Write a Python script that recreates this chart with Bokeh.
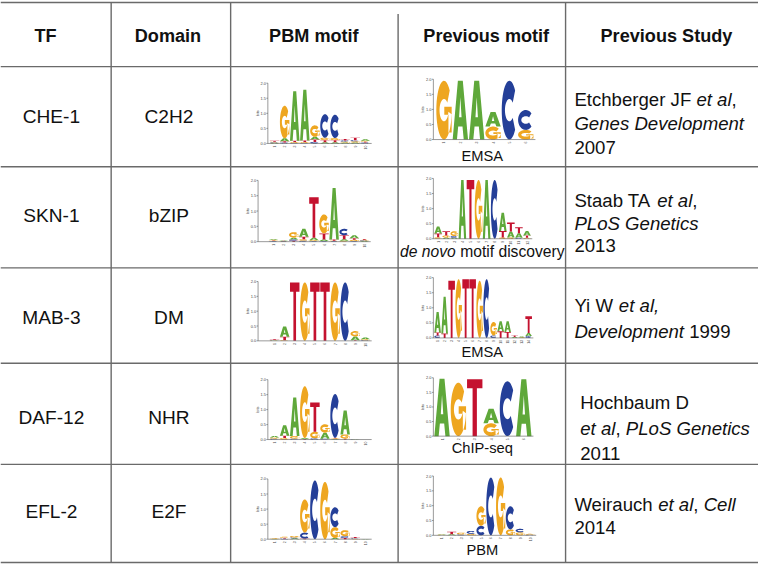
import math
from bokeh.plotting import figure
from bokeh.models import Range1d
from bokeh.embed import file_html
from bokeh.resources import INLINE
from bokeh.core.properties import value

FONT = "Liberation Sans"

# ---------------- data ----------------
headers = ["TF", "Domain", "PBM motif", "Previous motif", "Previous Study"]
tfs = ["CHE-1", "SKN-1", "MAB-3", "DAF-12", "EFL-2"]
domains = ["C2H2", "bZIP", "DM", "NHR", "E2F"]
methods = [
    [("EMSA", False)],
    [("de novo ", True), ("motif discovery", False)],
    [("EMSA", False)],
    [("ChIP-seq", False)],
    [("PBM", False)],
]
studies = [
    [[("Etchberger JF ", False), ("et al", True), (",", False)],
     [("Genes Development", True)],
     [("2007", False)]],
    [[("Staab TA ", False), ("et al", True), (",", False)],
     [("PLoS Genetics", True)],
     [("2013", False)]],
    [[("Yi W ", False), ("et al,", True)],
     [("Development ", True), ("1999", False)]],
    [[("Hochbaum D", False)],
     [("et al", True), (", ", False), ("PLoS Genetics", True)],
     [("2011", False)]],
    [[("Weirauch ", False), ("et al", True), (", ", False), ("Cell", True)],
     [("2014", False)]],
]

# motif stacks: each position lists (base, bits) from bottom to top
che1_pbm = [
    [("A", .02), ("C", .02), ("G", .02), ("T", .03)],
    [("C", .03), ("T", .04), ("A", .10), ("G", 1.08)],
    [("C", .02), ("G", .03), ("T", .04), ("A", 1.64)],
    [("C", .02), ("G", .03), ("T", .05), ("A", 1.68)],
    [("C", .05), ("T", .08), ("A", .09), ("G", .38)],
    [("A", .04), ("T", .07), ("G", .08), ("C", .78)],
    [("A", .04), ("T", .07), ("G", .07), ("C", .77)],
    [("A", .03), ("G", .03), ("C", .04), ("T", .05)],
    [("A", .03), ("G", .04), ("C", .04), ("T", .08)],
    [("C", .03), ("T", .03), ("G", .03), ("A", .05)],
]
che1_prev = [
    [("G", 1.95)],
    [("A", 1.95)],
    [("A", 1.95)],
    [("G", .43), ("A", .48)],
    [("C", 1.95)],
    [("G", .32), ("C", .66)],
]
skn1_pbm = [
    [("C", .02), ("T", .02), ("G", .02), ("A", .03)],
    [("C", .01), ("G", .01), ("T", .01), ("A", .02)],
    [("T", .03), ("C", .04), ("A", .06), ("G", .18)],
    [("C", .03), ("G", .05), ("T", .08), ("A", .26)],
    [("C", .02), ("G", .03), ("A", .08), ("T", 1.32)],
    [("C", .02), ("A", .05), ("T", .20), ("G", .62)],
    [("C", .01), ("G", .02), ("T", .04), ("A", 1.68)],
    [("G", .03), ("A", .05), ("T", .13), ("C", .21)],
    [("C", .02), ("G", .04), ("T", .05), ("A", .10)],
    [("A", .02), ("C", .02), ("G", .02), ("T", .03)],
]
skn1_prev = [
    [("G", .05), ("T", .12), ("A", .24)],
    [("A", .04), ("G", .07), ("T", .14)],
    [("A", .03), ("C", .06), ("G", .16)],
    [("A", 1.95)],
    [("T", 1.95)],
    [("G", 1.95)],
    [("A", 1.95)],
    [("C", 1.95)],
    [("G", .04), ("T", .22), ("A", .60)],
    [("G", .04), ("A", .20), ("T", .30)],
    [("C", .03), ("A", .15), ("T", .20)],
    [("G", .03), ("T", .08), ("A", .15)],
]
mab3_pbm = [
    [("A", .01), ("C", .01), ("G", .01), ("T", .02)],
    [("G", .02), ("T", .12), ("A", .34)],
    [("T", 1.97)],
    [("G", 1.97)],
    [("T", 1.97)],
    [("T", 1.97)],
    [("G", 1.97)],
    [("C", 1.97)],
    [("T", .02), ("A", .13), ("G", .18)],
    [("C", .02), ("G", .03), ("A", .06)],
]
mab3_prev = [
    [("C", .08), ("T", .10), ("A", .68)],
    [("T", .15), ("A", 1.22)],
    [("T", 1.90)],
    [("G", 1.95)],
    [("T", 1.95)],
    [("T", 1.95)],
    [("G", 1.90)],
    [("C", 1.95)],
    [("C", .08), ("G", .45)],
    [("T", .22), ("A", .33)],
    [("T", .20), ("A", .35)],
    [("A", .03), ("T", .05)],
    [("G", .02), ("A", .03)],
    [("C", .06), ("A", .10), ("T", .56)],
]
daf12_pbm = [
    [("C", .03), ("G", .04), ("A", .05)],
    [("G", .05), ("T", .08), ("A", .35)],
    [("C", .03), ("G", .09), ("A", 1.28)],
    [("T", .02), ("A", .03), ("G", 1.73)],
    [("C", .04), ("G", .22), ("T", .98)],
    [("C", .03), ("A", .20), ("G", .28)],
    [("A", .02), ("G", .02), ("T", .02), ("C", 1.46)],
    [("T", .03), ("G", .14), ("A", .80)],
    [("C", .01), ("A", .01)],
    [("T", .005)],
]
daf12_prev = [
    [("A", 1.97)],
    [("G", 1.83)],
    [("T", 1.95)],
    [("G", .44), ("A", .50)],
    [("C", 1.88)],
    [("A", 1.95)],
]
efl2_pbm = [
    [("A", .01), ("G", .02)],
    [("C", .02), ("T", .03), ("G", .03)],
    [("A", .03), ("C", .03), ("G", .05)],
    [("T", .02), ("C", .20), ("G", 1.10)],
    [("C", 1.95)],
    [("G", 1.90)],
    [("A", .04), ("G", .36), ("C", .66)],
    [("T", .04), ("C", .06), ("G", .20)],
    [("G", .02), ("C", .02), ("T", .03)],
    [("A", .005)],
]
efl2_prev = [
    [("G", .02), ("A", .02)],
    [("A", .04), ("T", .08)],
    [("C", .03), ("G", .06)],
    [("G", .05), ("C", .10)],
    [("C", .32), ("G", .66)],
    [("C", 1.95)],
    [("G", 1.95)],
    [("G", .20), ("C", .78)],
    [("G", .10), ("C", .12)],
    [("C", .02), ("G", .03)],
]
pbm_motifs = [che1_pbm, skn1_pbm, mab3_pbm, daf12_pbm, efl2_pbm]
prev_motifs = [che1_prev, skn1_prev, mab3_prev, daf12_prev, efl2_prev]
bit_ticks = [0.0, 0.5, 1.0, 1.5, 2.0]

# ---------------- styling / layout (reference pixel space 774 x 580) ----------------
W_PX, H_PX = 758, 564
K = W_PX / 774.0          # screen px per reference px
COLORS = {"A": "#5FA83A", "C": "#243F98", "G": "#EEA620", "T": "#C4122F"}
GRID = "#6a6a6a"
col_edges = [113, 235, 406, 577]
col_tops = [2, 2, 14, 2]
row_edges = [68, 171, 275, 373, 477]
top_y, bottom_y = 2, 578
header_y = 37
header_x = [46, 171, 320, 496, 680]
tf_x, dom_x = 52, 172
row_text_y = [119, 221, 326, 429, 525]
study_x = [586, 586, 586, 592, 586]
study_y = [[102, 127, 151], [206, 229, 252], [314, 340], [413, 440, 466], [518, 542]]
method_x = 492
method_y = [160, 258, 361, 460, 565]
# (axis_x, baseline_y, first_left, step, px_per_bit)
pbm_geom = [(273, 147, 275, 10.3, 31), (263, 248, 274, 10.3, 31.5),
            (263, 350, 275, 10.3, 30.5), (273, 451.5, 275, 10.3, 30.8),
            (273, 554, 275, 10.3, 31)]
prev_geom = [(442, 143, 445, 16.7, 31), (442, 245, 443, 8.25, 31),
             (442, 347, 443, 7.15, 31), (442, 448, 443, 16.7, 30),
             (442, 550, 446, 10.0, 30.5)]

# Arial / Liberation Sans advance widths (per 1000 em)
AW = {' ': 278, ',': 278, '.': 278, '-': 333}
AW.update({c: 556 for c in "0123456789"})
AW.update(dict(zip("abcdefghijklmnopqrstuvwxyz",
                   [556, 556, 500, 556, 556, 278, 556, 556, 222, 222, 500, 222, 833,
                    556, 556, 556, 556, 333, 500, 278, 556, 500, 722, 500, 500, 500])))
AW.update(dict(zip("ABCDEFGHIJKLMNOPQRSTUVWXYZ",
                   [667, 667, 722, 722, 667, 611, 778, 722, 278, 500, 667, 556, 833,
                    722, 778, 667, 778, 722, 667, 611, 722, 667, 944, 667, 667, 611])))


def tw(s, size):
    return sum(AW.get(c, 556) for c in s) * size / 1000.0


def fs(size):
    return f"{size * K:.2f}px"


# ---------------- letter outlines in a unit box (v upward) ----------------
def arc_ring(a0, a1, rin_x=0.21, rin_y=0.31, n=36):
    outer, inner = [], []
    for k in range(n + 1):
        a = math.radians(a0 + (a1 - a0) * k / n)
        outer.append((0.5 + 0.5 * math.cos(a), 0.5 + 0.5 * math.sin(a)))
        inner.append((0.5 + (0.5 - rin_x) * math.cos(a), 0.5 + (0.5 - rin_y) * math.sin(a)))
    return outer + inner[::-1]


SHAPES = {
    "T": [[[(0, 1), (1, 1), (1, .84), (.64, .84), (.64, 0), (.36, 0), (.36, .84), (0, .84)]]],
    "A": [[[(0, 0), (.28, 0), (.36, .22), (.64, .22), (.72, 0), (1, 0), (.66, 1), (.34, 1)],
           [(.5, .72), (.58, .38), (.42, .38)]]],
    "C": [[arc_ring(42, 318)]],
    "G": [[arc_ring(42, 352)],
          [[(.52, .56), (1, .56), (1, .12), (.79, .12), (.79, .42), (.52, .42)]]],
}

p = figure(width=W_PX, height=H_PX, x_range=Range1d(0, 774), y_range=Range1d(580, 0),
           output_backend="svg", toolbar_location=None, x_axis_type=None,
           y_axis_type=None, min_border=0)
p.min_border_left = p.min_border_right = p.min_border_top = p.min_border_bottom = 0
p.outline_line_color = None
p.grid.visible = False
p.background_fill_color = "white"

# ---------------- table grid ----------------
gx0, gy0, gx1, gy1 = [], [], [], []
for y in [top_y] + row_edges + [bottom_y]:
    gx0.append(0); gx1.append(774); gy0.append(y); gy1.append(y)
for x, t in zip(col_edges, col_tops):
    gx0.append(x); gx1.append(x); gy0.append(t); gy1.append(bottom_y)
p.segment(gx0, gy0, gx1, gy1, line_color=GRID, line_width=1.4)

# ---------------- texts ----------------
p.text(x=header_x, y=[header_y] * 5, text=headers, text_font=value(FONT),
       text_font_style="bold", text_font_size=fs(18.5), text_align="center",
       text_baseline="middle", text_color="#111111")
p.text(x=[tf_x] * 5, y=row_text_y, text=tfs, text_font=value(FONT), text_font_size=fs(19.5),
       text_align="center", text_baseline="middle", text_color="#111111")
p.text(x=[dom_x] * 5, y=row_text_y, text=domains, text_font=value(FONT), text_font_size=fs(19.5),
       text_align="center", text_baseline="middle", text_color="#111111")

SZ = 19
seg = {False: ([], [], []), True: ([], [], [])}
for r, lines in enumerate(studies):
    for li, line in enumerate(lines):
        cx = study_x[r]
        for txt, it in line:
            seg[it][0].append(cx); seg[it][1].append(study_y[r][li]); seg[it][2].append(txt)
            cx += tw(txt, SZ)
for it in (False, True):
    xs, ys, ts = seg[it]
    p.text(x=xs, y=ys, text=ts, text_font=value(FONT), text_font_size=fs(SZ),
           text_font_style="italic" if it else "normal", text_align="left",
           text_baseline="middle", text_color="#111111")

for r, parts in enumerate(methods):
    msz = 16 if r == 1 else 15
    total = sum(tw(t, msz) for t, _ in parts)
    cx = method_x - total / 2
    for txt, it in parts:
        p.text(x=[cx], y=[method_y[r]], text=[txt], text_font=value(FONT),
               text_font_size=fs(msz), text_font_style="italic" if it else "normal",
               text_align="left", text_baseline="middle", text_color="#111111")
        cx += tw(txt, msz)

# ---------------- sequence logos ----------------
LX, LY, LC = [], [], []
ax0, ay0, ax1, ay1 = [], [], [], []
tlx, tly, tlt = [], [], []
nx, ny, nt = [], [], []
bx, by = [], []


def draw_logo(motif, geom):
    axis_x, base, left0, step, ppb = geom
    w = step * 0.94
    for i, stack in enumerate(motif):
        left = left0 + i * step
        cum = 0.0
        for ch, h in stack:
            yb = base - cum * ppb
            hp = h * ppb
            polys_x, polys_y = [], []
            for poly in SHAPES[ch]:
                rx, ry = [], []
                for ring in poly:
                    rx.append([left + u * w for u, v in ring])
                    ry.append([yb - v * hp for u, v in ring])
                polys_x.append(rx); polys_y.append(ry)
            LX.append(polys_x); LY.append(polys_y); LC.append(COLORS[ch])
            cum += h
        nx.append(left + w / 2); ny.append(base + 2.2); nt.append(str(i + 1))
    end_x = left0 + len(motif) * step + 1
    ax0.extend([axis_x, axis_x]); ay0.extend([base, base])
    ax1.extend([axis_x, end_x]); ay1.extend([base - 2 * ppb, base])
    for t in bit_ticks:
        ax0.append(axis_x - 1.5); ax1.append(axis_x); ay0.append(base - t * ppb); ay1.append(base - t * ppb)
        tlx.append(axis_x - 2); tly.append(base - t * ppb); tlt.append(f"{t:.1f}")
    bx.append(axis_x - 11); by.append(base - ppb)


for m, g in zip(pbm_motifs, pbm_geom):
    draw_logo(m, g)
for m, g in zip(prev_motifs, prev_geom):
    draw_logo(m, g)

p.multi_polygons(xs=LX, ys=LY, fill_color=LC, line_color=None)
p.segment(ax0, ay0, ax1, ay1, line_color="#555555", line_width=0.6)
p.text(x=tlx, y=tly, text=tlt, text_font=value(FONT), text_font_size=fs(4),
       text_align="right", text_baseline="middle", text_color="#444444")
p.text(x=bx, y=by, text=["bits"] * len(bx), text_font=value(FONT), text_font_size=fs(4),
       text_align="center", text_baseline="middle", angle=math.pi / 2, text_color="#444444")
p.text(x=nx, y=ny, text=nt, text_font=value(FONT), text_font_size=fs(3.5),
       text_align="right", text_baseline="middle", angle=math.pi / 2, text_color="#444444")

open("out.html", "w").write(file_html(p, INLINE))
